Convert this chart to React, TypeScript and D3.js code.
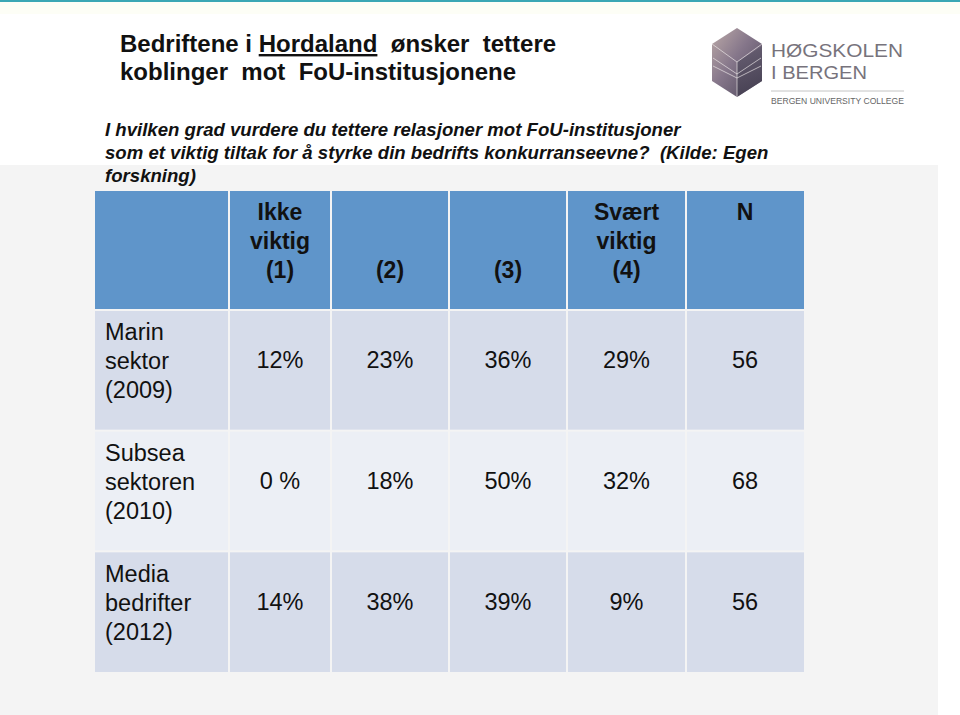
import React from "react";
import * as d3 from "d3";

const titleLines = ["Bedriftene i ", "Hordaland", "  ønsker  tettere"];
const titleLine2 = "koblinger  mot  FoU-institusjonene";
const subtitleLines = [
  "I hvilken grad vurdere du tettere relasjoner mot FoU-institusjoner",
  "som et viktig tiltak for å styrke din bedrifts konkurranseevne?  (Kilde: Egen",
  "forskning)",
];
const columnKeys = ["label", "c1", "c2", "c3", "c4", "n"];
const columnHeaders: string[][] = [
  [],
  ["Ikke", "viktig", "(1)"],
  ["", "", "(2)"],
  ["", "", "(3)"],
  ["Svært", "viktig", "(4)"],
  ["N"],
];
const rowLabels: string[][] = [
  ["Marin", "sektor", "(2009)"],
  ["Subsea", "sektoren", "(2010)"],
  ["Media", "bedrifter", "(2012)"],
];
const ikkeViktig = ["12%", "0 %", "14%"];
const score2 = ["23%", "18%", "38%"];
const score3 = ["36%", "50%", "39%"];
const sværtViktig = ["29%", "32%", "9%"];
const nValues = ["56", "68", "56"];

const W = 960;
const H = 715;
const FONT = "'Liberation Sans', Arial, Helvetica, sans-serif";

// layout of table columns (relative widths)
const colWidths = [134, 102, 118, 118, 119, 118];

export default function App() {
  const tableLeft = 95;
  const tableRight = 804;
  const headerTop = 191;
  const headerBottom = 310;
  const tableBottom = 672;
  const gap = 2;

  const total = d3.sum(colWidths);
  const xScale = d3.scaleLinear().domain([0, total]).range([tableLeft, tableRight]);
  const cum = [0, ...d3.cumsum(colWidths)];
  const colX = (i: number) => xScale(cum[i]);

  const yRow = d3
    .scaleBand<number>()
    .domain(rowLabels.map((_, i) => i))
    .range([headerBottom, tableBottom])
    .paddingInner(0);

  const rowFills = ["#d6dcea", "#eceff5", "#d6dcea"];
  const values = [ikkeViktig, score2, score3, sværtViktig, nValues];

  const hexPoints: [number, number][] = [
    [737, 28],
    [762, 44],
    [762, 81],
    [737, 97],
    [712, 81],
    [712, 44],
  ];
  const hexLine = d3.line()(hexPoints) + "Z";

  return (
    <svg
      width={W}
      height={H}
      style={{ position: "absolute", left: 0, top: 0, fontFamily: FONT }}
    >
      <defs>
        <linearGradient id="cube" x1="0" y1="0" x2="1" y2="1">
          <stop offset="0" stopColor="#bcaaa8" />
          <stop offset="0.45" stopColor="#85768a" />
          <stop offset="1" stopColor="#4c4659" />
        </linearGradient>
        <linearGradient id="face" x1="0" y1="0" x2="0" y2="1">
          <stop offset="0" stopColor="#5e576a" />
          <stop offset="1" stopColor="#3f3a4c" />
        </linearGradient>
      </defs>
      <rect x={0} y={0} width={W} height={H} fill="#ffffff" />
      <rect x={0} y={0} width={W} height={2} fill="#3aa7b5" />
      <rect x={0} y={2} width={W} height={12} fill="#fdfef6" />
      <rect x={0} y={165} width={938} height={H - 165} fill="#f4f4f4" />

      {/* Title */}
      <text x={120} y={52} fontSize={24} fontWeight="bold" fill="#111">
        <tspan>{titleLines[0]}</tspan>
        <tspan textDecoration="underline">{titleLines[1]}</tspan>
        <tspan style={{ whiteSpace: "pre" }}>{titleLines[2]}</tspan>
      </text>
      <text
        x={120}
        y={80}
        fontSize={24}
        fontWeight="bold"
        fill="#111"
        style={{ whiteSpace: "pre" }}
      >
        {titleLine2}
      </text>

      {/* Subtitle */}
      {subtitleLines.map((s, i) => (
        <text
          key={i}
          x={105}
          y={136 + i * 23}
          fontSize={18.6}
          fontWeight="bold"
          fontStyle="italic"
          fill="#111"
          style={{ whiteSpace: "pre" }}
        >
          {s}
        </text>
      ))}

      {/* Logo */}
      <path d={hexLine} fill="url(#cube)" />
      <path d="M737,62 L762,46 L762,81 L737,97 Z" fill="url(#face)" opacity={0.75} />
      <path
        d="M713,58 L737,74 L761,58 M713,66 L737,78 L761,66 M737,62 L737,97 M712,44 L737,62 L762,44"
        stroke="#f2eeee"
        strokeWidth={0.8}
        fill="none"
        opacity={0.8}
      />
      <text x={771} y={57} fontSize={19} fill="#77737c" textLength={132} lengthAdjust="spacingAndGlyphs">
        HØGSKOLEN
      </text>
      <text x={771} y={79} fontSize={19} fill="#77737c" textLength={96} lengthAdjust="spacingAndGlyphs">
        I BERGEN
      </text>
      <line x1={771} x2={904} y1={91} y2={91} stroke="#c4c4c4" strokeWidth={1} />
      <text x={771} y={104} fontSize={9} fill="#666666" textLength={133} lengthAdjust="spacingAndGlyphs">
        BERGEN UNIVERSITY COLLEGE
      </text>

      {/* Header row */}
      {columnKeys.map((k, i) => (
        <g key={k}>
          <rect
            x={colX(i) + (i === 0 ? 0 : gap / 2)}
            y={headerTop}
            width={colX(i + 1) - colX(i) - (i === 0 || i === columnKeys.length - 1 ? gap / 2 : gap)}
            height={headerBottom - headerTop - gap / 2}
            fill="#5f95ca"
          />
          {columnHeaders[i].map((line, j) => (
            <text
              key={j}
              x={(colX(i) + colX(i + 1)) / 2}
              y={220 + j * 29}
              textAnchor="middle"
              fontSize={23}
              fontWeight="bold"
              fill="#111"
            >
              {line}
            </text>
          ))}
        </g>
      ))}

      {/* Body rows */}
      {rowLabels.map((lab, r) => {
        const y0 = yRow(r)!;
        const h = yRow.bandwidth();
        const top = y0 + gap / 2;
        const bottom = y0 + h - (r === rowLabels.length - 1 ? 0 : gap / 2);
        const cy = (top + bottom) / 2;
        return (
          <g key={r}>
            {columnKeys.map((k, i) => (
              <rect
                key={k}
                x={colX(i) + (i === 0 ? 0 : gap / 2)}
                y={top}
                width={colX(i + 1) - colX(i) - (i === 0 || i === columnKeys.length - 1 ? gap / 2 : gap)}
                height={bottom - top}
                fill={rowFills[r]}
              />
            ))}
            {lab.map((line, j) => (
              <text key={j} x={105} y={cy - 30 + j * 29} fontSize={23.5} fill="#111">
                {line}
              </text>
            ))}
            {values.map((col, i) => (
              <text
                key={i}
                x={(colX(i + 1) + colX(i + 2)) / 2}
                y={cy - 2}
                textAnchor="middle"
                fontSize={23.5}
                fill="#111"
              >
                {col[r]}
              </text>
            ))}
          </g>
        );
      })}
    </svg>
  );
}
